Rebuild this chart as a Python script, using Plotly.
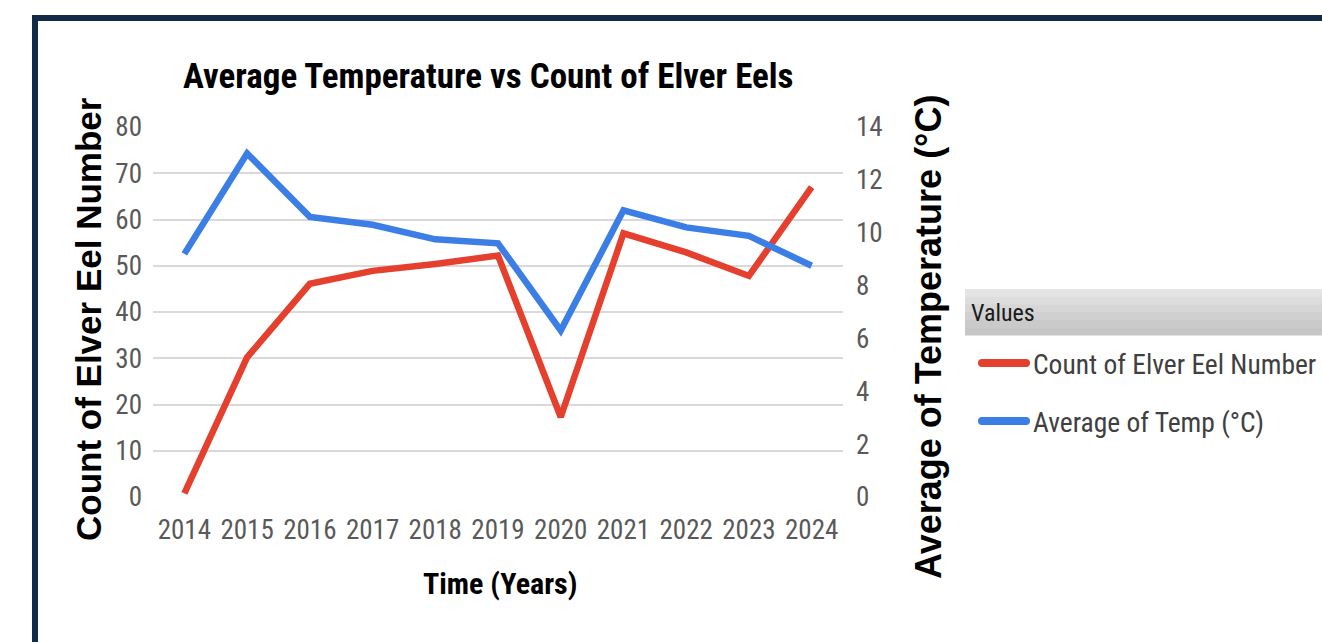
import plotly.graph_objects as go

# Yearly values
years = ["2014", "2015", "2016", "2017", "2018", "2019", "2020", "2021", "2022", "2023", "2024"]
eel_count = [0.8, 30.2, 46.1, 48.9, 50.4, 52.2, 17.3, 57.0, 52.9, 47.8, 67.0]
avg_temp = [9.2, 13.0, 10.6, 10.3, 9.75, 9.6, 6.3, 10.85, 10.2, 9.88, 8.75]

count_ticks = [0, 10, 20, 30, 40, 50, 60, 70, 80]
temp_ticks = [0, 2, 4, 6, 8, 10, 12, 14]

RED = "#E5402E"
BLUE = "#3B7EE5"
NAVY = "#142B48"
NARROW = "Liberation Sans Narrow, Roboto Condensed, Arial Narrow, sans-serif"
WIDE = "Liberation Sans, Arial, sans-serif"

W, H = 1322, 642
L, R, T, B = 153, 843, 127, 497  # plot area in pixels


def px(x):
    return (x - L) / (R - L)


def py(y):
    return (B - y) / (B - T)


fig = go.Figure()
fig.add_trace(go.Scatter(x=years, y=eel_count, name="Count of Elver Eel Number",
                         mode="lines", line=dict(color=RED, width=6.5), yaxis="y"))
fig.add_trace(go.Scatter(x=years, y=avg_temp, name="Average of Temp (°C)",
                         mode="lines", line=dict(color=BLUE, width=6.5), yaxis="y2"))

shapes = []
# outer navy frame
shapes.append(dict(type="rect", xref="paper", yref="paper",
                   x0=px(35), x1=px(1340), y0=py(660), y1=py(18),
                   line=dict(color=NAVY, width=6), fillcolor="rgba(0,0,0,0)", layer="below"))
# legend header band (soft vertical gradient)
band_top, band_bot = 289, 335
greys = ["#e4e4e4", "#dddddd", "#d6d6d6", "#d0d0d0", "#cacaca", "#c6c6c6"]
n = len(greys)
for i, g in enumerate(greys):
    y0 = band_top + (band_bot - band_top) * i / n
    y1 = band_top + (band_bot - band_top) * (i + 1) / n
    shapes.append(dict(type="rect", xref="paper", yref="paper",
                       x0=px(965), x1=px(1330), y0=py(y1 + 0.5), y1=py(y0),
                       line=dict(width=0), fillcolor=g, layer="below"))
# legend swatches (rounded ends)
for yy, col in [(363, RED), (421, BLUE)]:
    shapes.append(dict(type="line", xref="paper", yref="paper",
                       x0=px(982), x1=px(1026), y0=py(yy), y1=py(yy),
                       line=dict(color=col, width=8)))
    for cx in (982, 1026):
        shapes.append(dict(type="circle", xref="paper", yref="paper",
                           x0=px(cx - 4), x1=px(cx + 4), y0=py(yy + 4), y1=py(yy - 4),
                           line=dict(width=0), fillcolor=col))

annotations = [
    dict(text="<b>Average Temperature vs Count of Elver Eels</b>", xref="paper", yref="paper",
         x=px(488), y=py(76), xanchor="center", yanchor="middle", showarrow=False,
         font=dict(family=NARROW, size=35, color="#000000")),
    dict(text="<b>Time (Years)</b>", xref="paper", yref="paper",
         x=px(500), y=py(583), xanchor="center", yanchor="middle", showarrow=False,
         font=dict(family=NARROW, size=30, color="#000000")),
    dict(text="<b>Count of Elver Eel Number</b>", xref="paper", yref="paper",
         x=px(88), y=py(319), xanchor="center", yanchor="middle", showarrow=False,
         textangle=-90, font=dict(family=WIDE, size=35, color="#000000")),
    dict(text="<b>Average of Temperature (°C)</b>", xref="paper", yref="paper",
         x=px(928), y=py(337), xanchor="center", yanchor="middle", showarrow=False,
         textangle=-90, font=dict(family=WIDE, size=36, color="#000000")),
    dict(text="Values", xref="paper", yref="paper",
         x=px(969), y=py(313), xanchor="left", yanchor="middle", showarrow=False,
         font=dict(family=NARROW, size=24, color="#1a1a1a")),
    dict(text="Count of Elver Eel Number", xref="paper", yref="paper",
         x=px(1031), y=py(364), xanchor="left", yanchor="middle", showarrow=False,
         font=dict(family=NARROW, size=27.5, color="#404040")),
    dict(text="Average of Temp (°C)", xref="paper", yref="paper",
         x=px(1031), y=py(422), xanchor="left", yanchor="middle", showarrow=False,
         font=dict(family=NARROW, size=27.5, color="#404040")),
]

tick_font = dict(family=NARROW, size=27, color="#595959")

fig.update_layout(
    width=W, height=H,
    margin=dict(l=L, r=W - R, t=T, b=H - B, pad=0),
    paper_bgcolor="white", plot_bgcolor="white",
    showlegend=False,
    shapes=shapes,
    annotations=annotations,
    xaxis=dict(type="category", range=[-0.5, len(years) - 0.5], showgrid=False,
               showline=False, zeroline=False, ticks="", tickfont=tick_font,
               ticklabelstandoff=14),
    yaxis=dict(range=[0, 80], tickvals=count_ticks, showgrid=True, gridcolor="#d9d9d9",
               gridwidth=2, zeroline=False, showline=False, ticks="", tickfont=tick_font,
               ticklabelstandoff=10),
    yaxis2=dict(range=[0, 14], tickvals=temp_ticks, overlaying="y", side="right",
                showgrid=False, zeroline=False, showline=False, ticks="",
                tickfont=tick_font, ticklabelstandoff=12),
)

fig.write_html("out.html")
